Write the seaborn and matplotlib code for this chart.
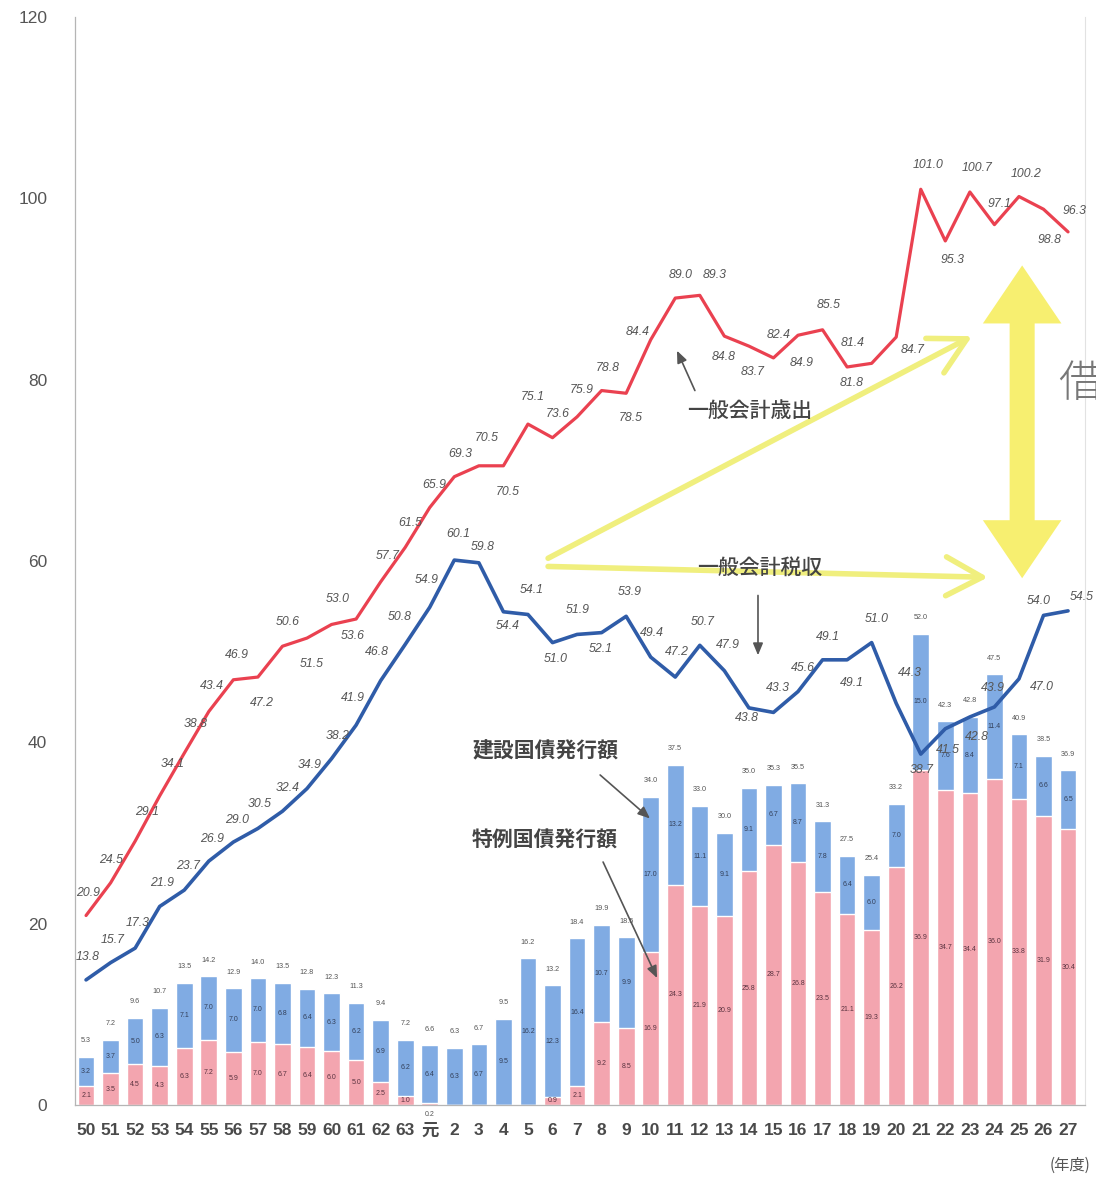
import numpy as np
import pandas as pd
import matplotlib
matplotlib.use("Agg")
import matplotlib.pyplot as plt
from matplotlib.patches import Polygon
import seaborn as sns

# 年度 (昭和50〜63, 平成元〜27)
years = ["50", "51", "52", "53", "54", "55", "56", "57", "58", "59", "60", "61", "62", "63",
         "元", "2", "3", "4", "5", "6", "7", "8", "9", "10", "11", "12", "13", "14", "15",
         "16", "17", "18", "19", "20", "21", "22", "23", "24", "25", "26", "27"]

# 一般会計歳出 (兆円)
expenditure = [20.9, 24.5, 29.1, 34.1, 38.8, 43.4, 46.9, 47.2, 50.6, 51.5, 53.0, 53.6, 57.7, 61.5,
               65.9, 69.3, 70.5, 70.5, 75.1, 73.6, 75.9, 78.8, 78.5, 84.4, 89.0, 89.3, 84.8, 83.7,
               82.4, 84.9, 85.5, 81.4, 81.8, 84.7, 101.0, 95.3, 100.7, 97.1, 100.2, 98.8, 96.3]

# 一般会計税収 (兆円)
tax_revenue = [13.8, 15.7, 17.3, 21.9, 23.7, 26.9, 29.0, 30.5, 32.4, 34.9, 38.2, 41.9, 46.8, 50.8,
               54.9, 60.1, 59.8, 54.4, 54.1, 51.0, 51.9, 52.1, 53.9, 49.4, 47.2, 50.7, 47.9, 43.8,
               43.3, 45.6, 49.1, 49.1, 51.0, 44.3, 38.7, 41.5, 42.8, 43.9, 47.0, 54.0, 54.5]

# 公債発行額 合計 / 建設国債 / 特例国債 (兆円)
bond_total = [5.3, 7.2, 9.6, 10.7, 13.5, 14.2, 12.9, 14.0, 13.5, 12.8, 12.3, 11.3, 9.4, 7.2,
              6.6, 6.3, 6.7, 9.5, 16.2, 13.2, 18.4, 19.9, 18.5, 34.0, 37.5, 33.0, 30.0, 35.0,
              35.3, 35.5, 31.3, 27.5, 25.4, 33.2, 52.0, 42.3, 42.8, 47.5, 40.9, 38.5, 36.9]
construction_bonds = [3.2, 3.7, 5.0, 6.3, 7.1, 7.0, 7.0, 7.0, 6.8, 6.4, 6.3, 6.2, 6.9, 6.2,
                      6.4, 6.3, 6.7, 9.5, 16.2, 12.3, 16.4, 10.7, 9.9, 17.0, 13.2, 11.1, 9.1, 9.1,
                      6.7, 8.7, 7.8, 6.4, 6.0, 7.0, 15.0, 7.6, 8.4, 11.4, 7.1, 6.6, 6.5]
special_bonds = [2.1, 3.5, 4.5, 4.3, 6.3, 7.2, 5.9, 7.0, 6.7, 6.4, 6.0, 5.0, 2.5, 1.0,
                 0.2, 0.0, 0.0, 0.0, 0.0, 0.9, 2.1, 9.2, 8.5, 16.9, 24.3, 21.9, 20.9, 25.8,
                 28.7, 26.8, 23.5, 21.1, 19.3, 26.2, 36.9, 34.7, 34.4, 36.0, 33.8, 31.9, 30.4]

y_ticks = [0, 20, 40, 60, 80, 100, 120]

# label offsets (pixels, image-style: positive dy = downward)
exp_label_off = [(2, -23), (0, -23), (12, -29), (13, -32), (11, -29), (3, -26), (4, -25), (4, 26),
                 (5, -24), (5, 26), (6, -25), (-3, 17), (7, -26), (5, -24), (5, -23), (6, -23),
                 (8, -28), (4, 26), (5, -27), (5, -24), (5, -27), (6, -23), (5, 25), (-13, -8),
                 (5, -23), (15, -20), (-1, 21), (4, 26), (5, -23), (4, 28), (6, -25), (6, -24),
                 (-20, 20), (16, 13), (7, -24), (7, 19), (7, -24), (5, -21), (7, -23), (6, 31),
                 (7, -21)]
tax_label_off = [(2, -23), (2, -23), (3, -25), (2, -23), (4, -24), (3, -22), (4, -22), (2, -24),
                 (5, -23), (3, -24), (6, -23), (-3, -27), (-4, -29), (-5, -27), (-3, -27), (4, -26),
                 (4, -16), (4, 14), (4, -24), (3, 16), (1, -24), (-1, 16), (4, -24), (1, -24),
                 (2, -25), (3, -23), (4, -26), (-2, 10), (4, -24), (5, -24), (5, -23), (5, 23),
                 (5, -24), (14, -30), (1, 16), (3, 21), (7, 20), (-1, -19), (23, 8), (-5, -14),
                 (14, -14)]

RED = "#ea4150"
NAVY = "#2f5ca8"
BAR_BLUE = "#80abe3"
BAR_PINK = "#f3a5af"
HILITE = "#f0ef7e"
HILITE2 = "#f6ec4c"

sns.set_theme(style="white")
plt.rcParams["font.family"] = ["Liberation Sans", "Noto Sans CJK JP"]
plt.rcParams["axes.unicode_minus"] = False
CJK = ["Noto Sans CJK JP", "DejaVu Sans"]

df = pd.DataFrame({"year": years, "total": bond_total, "special": special_bonds,
                   "construction": construction_bonds})
pos = np.arange(len(years))

fig = plt.figure(figsize=(10.96, 11.8), dpi=100)
ax = fig.add_axes([75 / 1096, 75 / 1180, 1010 / 1096, 1088 / 1180])

# stacked bars: blue drawn to the total, pink (特例) over the lower part
sns.barplot(data=df, x="year", y="total", order=years, color=BAR_BLUE, saturation=1,
            width=0.68, errorbar=None, ax=ax, zorder=2)
sns.barplot(data=df, x="year", y="special", order=years, color=BAR_PINK, saturation=1,
            width=0.68, errorbar=None, ax=ax, zorder=2)

# lines
sns.lineplot(x=pos, y=expenditure, color=RED, lw=2.3, ax=ax, zorder=4)
sns.lineplot(x=pos, y=tax_revenue, color=NAVY, lw=2.6, ax=ax, zorder=4)

ax.set_xlim(-0.45, 40.69)
ax.set_ylim(0, 120)

# value labels on the lines
for i, (v, (dx, dy)) in enumerate(zip(expenditure, exp_label_off)):
    ax.annotate(f"{v:.1f}", (pos[i], v), xytext=(dx, -dy), textcoords="offset pixels",
                ha="center", va="center", fontsize=8.8, style="italic", color="#555555",
                zorder=5)
for i, (v, (dx, dy)) in enumerate(zip(tax_revenue, tax_label_off)):
    ax.annotate(f"{v:.1f}", (pos[i], v), xytext=(dx, -dy), textcoords="offset pixels",
                ha="center", va="center", fontsize=8.8, style="italic", color="#555555",
                zorder=5)

# bar labels
for i in range(len(years)):
    t, s, c = bond_total[i], special_bonds[i], construction_bonds[i]
    ax.annotate(f"{t:.1f}", (pos[i], t), xytext=(0, 16), textcoords="offset pixels",
                ha="center", va="center", fontsize=5.2, color="#555555", zorder=3)
    ax.text(pos[i], (s + t) / 2, f"{c:.1f}", ha="center", va="center",
            fontsize=5, color="#33405a", zorder=3)
    if s >= 0.5:
        ax.text(pos[i], s / 2, f"{s:.1f}", ha="center", va="center",
                fontsize=5, color="#5a3340", zorder=3)
    elif s > 0:
        ax.annotate(f"{s:.1f}", (pos[i], 0), xytext=(0, -9), textcoords="offset pixels",
                    ha="center", va="center", fontsize=5, color="#555555",
                    annotation_clip=False)

# axes styling
ax.spines["top"].set_visible(False)
ax.spines["right"].set_color("#e2e2e2")
ax.spines["right"].set_linewidth(0.8)
ax.spines["left"].set_color("#b5b5b5")
ax.spines["bottom"].set_color("#b5b5b5")
ax.spines["left"].set_linewidth(0.9)
ax.spines["bottom"].set_linewidth(0.9)

ax.set_yticks(y_ticks)
ax.set_yticklabels([str(v) for v in y_ticks])
ax.tick_params(axis="y", direction="in", length=4, color="#b5b5b5", pad=20,
               labelsize=12.5, labelcolor="#555555")
ax.set_xticks(pos)
ax.set_xticklabels(years)
ax.tick_params(axis="x", length=0, pad=13, labelsize=12.5, labelcolor="#4a4a4a")
for lab in ax.get_xticklabels():
    lab.set_fontweight("bold")
    if lab.get_text() == "元":
        lab.set_family(CJK)
ax.set_xticks(pos[:-1] + 0.5, minor=True)
ax.tick_params(axis="x", which="minor", direction="in", length=3, color="#b5b5b5")
ax.set_xlabel("")
ax.set_ylabel("")

# highlighter arrows
for tip, tail in [((36.09, 84.8), (18.82, 60.3)), ((36.74, 58.2), (18.82, 59.4))]:
    ax.annotate("", xy=tip, xytext=tail,
                arrowprops=dict(arrowstyle="->,head_length=1.3,head_width=0.7", lw=4,
                                color=HILITE, mutation_scale=20, shrinkA=0, shrinkB=0),
                zorder=1)
xc, y_lo, y_hi = 38.13, 58.1, 92.6
shaft, head_w, head_l = 0.51, 1.6, 6.4
ax.add_patch(Polygon([(xc, y_hi), (xc + head_w, y_hi - head_l), (xc + shaft, y_hi - head_l),
                      (xc + shaft, y_lo + head_l), (xc + head_w, y_lo + head_l), (xc, y_lo),
                      (xc - head_w, y_lo + head_l), (xc - shaft, y_lo + head_l),
                      (xc - shaft, y_hi - head_l), (xc - head_w, y_hi - head_l)],
                     closed=True, facecolor=HILITE2, edgecolor="none", alpha=0.8,
                     zorder=1, clip_on=False))

# annotations
txt_kw = dict(ha="center", va="center", fontsize=15, color="#444444", family=CJK,
              fontweight="medium", zorder=6)
arr_kw = dict(arrowstyle="-|>,head_length=0.6,head_width=0.25", color="#555555", lw=1.2,
              shrinkA=0, shrinkB=0)
ax.text(27.05, 76.6, "一般会計歳出", **txt_kw)
ax.annotate("", xy=(24.07, 83.2), xytext=(24.8, 78.8), arrowprops=arr_kw, zorder=6)
ax.text(27.45, 59.2, "一般会計税収", **txt_kw)
ax.annotate("", xy=(27.37, 49.6), xytext=(27.37, 56.2), arrowprops=arr_kw, zorder=6)
ax.text(18.7, 39.1, "建設国債発行額", **{**txt_kw, "fontweight": "bold"})
ax.annotate("", xy=(22.97, 31.6), xytext=(20.94, 36.4), arrowprops=arr_kw, zorder=6)
ax.text(18.7, 29.2, "特例国債発行額", **{**txt_kw, "fontweight": "bold"})
ax.annotate("", xy=(23.26, 14.0), xytext=(21.06, 26.8), arrowprops=arr_kw, zorder=6)

fig.text(1058 / 1096, 1 - 385 / 1180, "借金", fontsize=32, color="#777777", family=CJK,
         fontweight="light", ha="left", va="center")
fig.text(1050 / 1096, 1 - 1165 / 1180, "(年度)", fontsize=11, color="#555555",
         family=CJK, ha="left", va="center")

fig.savefig("out.png", dpi=100, facecolor="white")
